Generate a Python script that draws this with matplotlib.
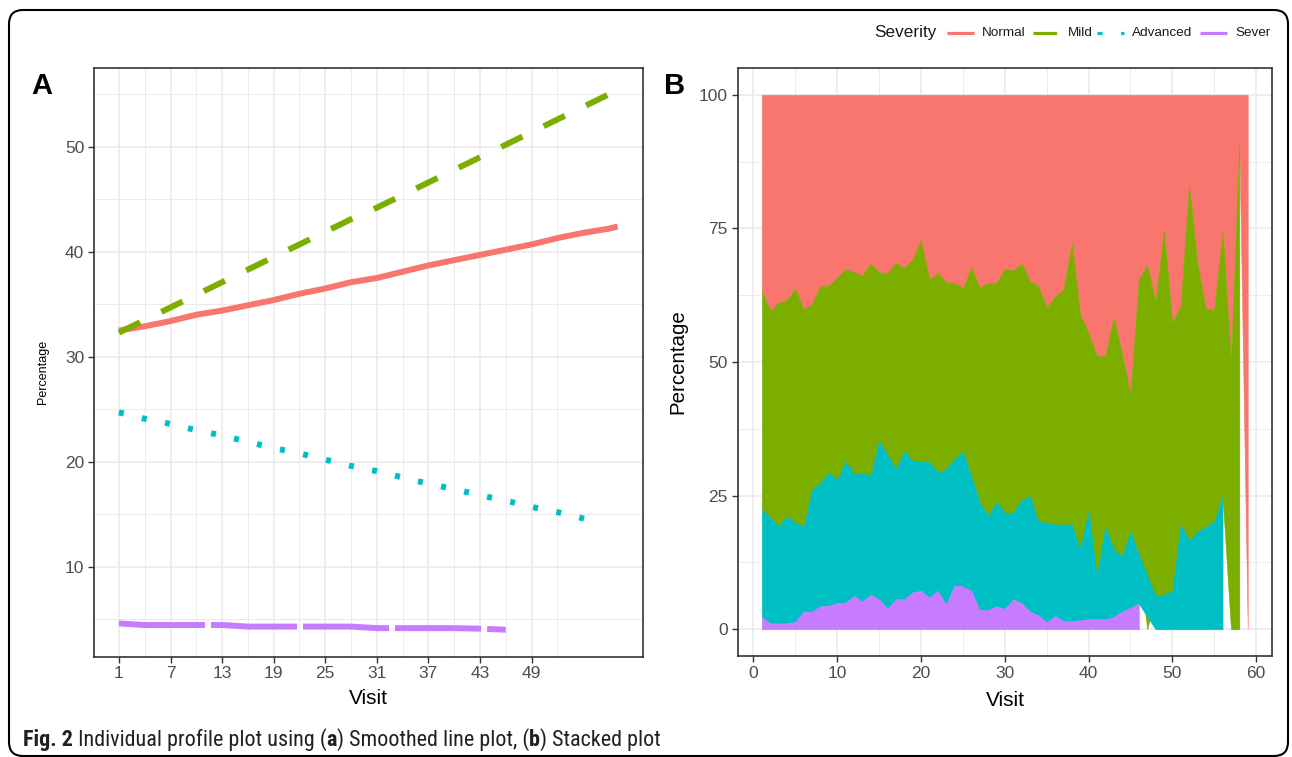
import numpy as np
import matplotlib
matplotlib.use("Agg")
import matplotlib.pyplot as plt
from matplotlib import font_manager
from matplotlib.lines import Line2D
from matplotlib.patches import FancyBboxPatch
from matplotlib.transforms import IdentityTransform

W, H = 1292, 757
nan = np.nan

# ---------- data ----------
SEVERITY = ["Normal", "Mild", "Advanced", "Sever"]
COLORS = ["#F8766D", "#7CAE00", "#00BFC4", "#C77CFF"]

# panel A: smoothed profiles
VISIT_A = [1, 4, 7, 10, 13, 16, 19, 22, 25, 28, 31, 34, 37, 40, 43, 46, 49, 52, 55, 58, 59]
NORMAL_A = [32.5, 32.9, 33.4, 34.0, 34.4, 34.9, 35.4, 36.0, 36.5, 37.1, 37.5,
            38.1, 38.7, 39.2, 39.7, 40.2, 40.7, 41.3, 41.8, 42.2, 42.4]
MILD_A = [32.3, 33.5, 34.7, 35.9, 37.1, 38.3, 39.5, 40.7, 41.9, 43.1, 44.2,
          45.4, 46.6, 47.8, 49.0, 50.2, 51.4, 52.6, 53.8, 55.0, 55.4]
VISIT_ADV_A = [1, 4, 7, 10, 13, 16, 19, 22, 25, 28, 31, 34, 37, 40, 43, 46, 49, 52, 55, 56]
ADV_A = [24.7, 24.1, 23.6, 23.0, 22.5, 21.9, 21.3, 20.8, 20.2, 19.6,
         19.1, 18.5, 17.9, 17.4, 16.8, 16.3, 15.7, 15.2, 14.6, 14.4]
VISIT_SEV_A = [1, 4, 7, 10, 13, 16, 19, 22, 25, 28, 31, 34, 37, 40, 43, 46]
SEV_A = [4.6, 4.45, 4.45, 4.45, 4.45, 4.3, 4.3, 4.3, 4.3, 4.3,
         4.15, 4.15, 4.15, 4.15, 4.1, 4.0]

# panel B: percentage per visit (nan = category absent at that visit)
VISIT_B = list(range(1, 60))
SEV_B = [2.3, 1.1, 1.1, 1.1, 1.4, 3.3, 3.3, 4.3, 4.4, 4.9,
         5.0, 6.2, 5.2, 6.5, 5.6, 3.9, 5.6, 5.6, 6.9, 7.2,
         5.9, 7.2, 4.6, 8.2, 8.0, 7.2, 3.6, 3.6, 4.3, 3.8,
         5.6, 4.9, 3.3, 2.6, 1.3, 2.5, 1.5, 1.5, 1.7, 1.9,
         1.9, 1.9, 2.3, 3.3, 4.0, 4.8, nan, nan, nan, nan,
         nan, nan, nan, nan, nan, nan, nan, nan, nan]
ADV_B = [20.2, 19.8, 18.1, 20.1, 18.5, 15.9, 22.8, 23.1, 24.9, 23.1,
         26.4, 22.8, 24.1, 22.2, 29.7, 28.7, 24.4, 27.6, 24.7, 24.1,
         25.4, 22.1, 25.4, 23.7, 25.2, 21.5, 20.2, 17.6, 19.5, 18.0,
         16.2, 19.2, 21.6, 17.6, 18.6, 17.1, 18.1, 18.1, 13.3, 20.3,
         7.9, 17.3, 12.7, 10.4, 14.3, 9.2, nan, 6.2, 6.5, 7.2,
         19.6, 16.6, 18.3, 19.2, 20.2, 24.8, nan, nan, nan]
MILD_B = [40.7, 38.7, 41.9, 40.4, 43.8, 40.6, 34.8, 36.8, 35.0, 37.8,
          36.0, 37.8, 36.9, 39.7, 31.5, 34.0, 38.6, 34.4, 37.6, 41.5,
          34.1, 37.3, 34.9, 32.9, 30.6, 39.0, 40.1, 43.6, 41.0, 45.6,
          45.3, 44.3, 40.2, 44.0, 40.3, 42.6, 43.9, 52.7, 43.9, 33.2,
          41.3, 31.9, 43.3, 37.8, 25.7, 51.5, 68.1, 55.0, 68.1, 50.1,
          41.0, 66.4, 50.1, 40.7, 39.7, 49.8, 49.8, 91.5, nan]
NORMAL_B = [36.8, 40.4, 38.9, 38.4, 36.3, 40.2, 39.1, 35.8, 35.7, 34.2,
            32.6, 33.2, 33.8, 31.6, 33.2, 33.4, 31.4, 32.4, 30.8, 27.2,
            34.6, 33.4, 35.1, 35.2, 36.2, 32.3, 36.1, 35.2, 35.2, 32.6,
            32.9, 31.6, 34.9, 35.8, 39.8, 37.8, 36.5, 27.7, 41.1, 44.6,
            48.9, 48.9, 41.7, 48.5, 56.0, 34.5, 31.9, 38.8, 25.4, 42.7,
            39.4, 17.0, 31.6, 40.1, 40.1, 25.4, 50.2, 8.5, 100.0]

# ---------- style ----------
plt.rcParams["font.family"] = ["Liberation Sans", "DejaVu Sans"]
plt.rcParams["lines.scale_dashes"] = False
installed = {f.name for f in font_manager.fontManager.ttflist}
# the journal caption uses a condensed face; take the narrowest one we have
CAPTION_FONT = "Roboto"
for cand in ("Liberation Sans Narrow", "DejaVu Sans Condensed", "Roboto Condensed",
             "Open Sans Condensed", "Noto Sans Condensed"):
    if cand in installed:
        CAPTION_FONT = cand
        break

GRID = "#EBEBEB"
FRAME = "#333333"
TICKTXT = "#4D4D4D"
# line styles per severity (points, unscaled)
STYLES = [None, (0, (17, 17)), (0, (3.6, 13.4)), (0, (62, 4.3))]


def px(x, y):
    return x / W, 1 - y / H


def style_axes(ax):
    ax.set_facecolor("white")
    for s in ax.spines.values():
        s.set_color(FRAME)
        s.set_linewidth(1.2)
    ax.tick_params(direction="out", length=4, width=1, color=FRAME,
                   labelcolor=TICKTXT, labelsize=12.5, pad=3)
    ax.grid(which="major", color=GRID, lw=1.2)
    ax.grid(which="minor", color=GRID, lw=0.7)
    ax.tick_params(which="minor", length=0)
    ax.set_axisbelow(True)


fig = plt.figure(figsize=(W / 100, H / 100), dpi=100)

# ---------- panel A ----------
axA = fig.add_axes([94 / W, 1 - 656.5 / H, (642.5 - 94) / W, (656.5 - 67.5) / H])
style_axes(axA)
axA.set_xlim(-1.9, 61.9)
axA.set_ylim(1.45, 57.55)
axA.set_xticks(np.arange(1, 50, 6))
axA.set_xticks(np.arange(4, 56, 6), minor=True)
axA.set_yticks([10, 20, 30, 40, 50])
axA.set_yticks([5, 15, 25, 35, 45, 55], minor=True)

series_a = [(VISIT_A, NORMAL_A), (VISIT_A, MILD_A), (VISIT_ADV_A, ADV_A), (VISIT_SEV_A, SEV_A)]
for (vx, vy), col, ls in zip(series_a, COLORS, STYLES):
    kw = dict(color=col, lw=4.3, solid_capstyle="butt", dash_capstyle="butt")
    if ls is not None:
        kw["linestyle"] = ls
    axA.plot(vx, vy, **kw)

# ---------- panel B ----------
axB = fig.add_axes([737.5 / W, 1 - 656 / H, (1272 - 737.5) / W, (656 - 68) / H])
style_axes(axB)
axB.set_xlim(-1.9, 61.9)
axB.set_ylim(-5, 105)
axB.set_xticks(np.arange(0, 61, 10))
axB.set_xticks(np.arange(5, 60, 10), minor=True)
axB.set_yticks([0, 25, 50, 75, 100])
axB.set_yticks([12.5, 37.5, 62.5, 87.5], minor=True)

xb = np.array(VISIT_B, dtype=float)
stack_names = ["Sever", "Advanced", "Mild", "Normal"]
stack = [np.array(v, dtype=float) for v in (SEV_B, ADV_B, MILD_B, NORMAL_B)]
lower = []
run = np.zeros(len(xb))
for v in stack:
    lower.append(run.copy())
    run = run + np.nan_to_num(v)
# draw Normal first, Sever last (group order); each group joins its own points
for i in (3, 2, 1, 0):
    v = stack[i]
    m = ~np.isnan(v)
    col = COLORS[SEVERITY.index(stack_names[i])]
    axB.fill_between(xb[m], lower[i][m], lower[i][m] + v[m], color=col,
                     lw=0.4, edgecolor=col, zorder=2)

# ---------- axis titles and panel tags ----------
fig.text(*px(43, 372), "Percentage", rotation=90, ha="center", va="center", fontsize=9, color="black")
fig.text(*px(368, 698), "Visit", ha="center", va="center", fontsize=15, color="black")
fig.text(*px(678, 362), "Percentage", rotation=90, ha="center", va="center", fontsize=14.8, color="black")
fig.text(*px(1005, 700), "Visit", ha="center", va="center", fontsize=15, color="black")
fig.text(*px(31, 94), "A", fontsize=21, fontweight="bold", ha="left", va="baseline")
fig.text(*px(664, 94), "B", fontsize=21, fontweight="bold", ha="left", va="baseline")

# ---------- legend ----------
fig.text(*px(874, 33), "Severity", fontsize=12.3, ha="left", va="center", color="#1A1A1A")
KEY_X = [947, 1033, 1097, 1200]
for name, col, ls, kx in zip(SEVERITY, COLORS, STYLES, KEY_X):
    x0, y0 = px(kx, 33)
    x1, _ = px(kx + 27, 33)
    ln = Line2D([x0, x1], [y0, y0], transform=fig.transFigure, color=col, lw=2.3,
                solid_capstyle="butt", dash_capstyle="butt",
                linestyle=ls if ls is not None else "-")
    fig.add_artist(ln)
    fig.text(*px(kx + 35, 33), name, fontsize=9.7, ha="left", va="center", color="#1A1A1A")

# ---------- outer frame ----------
frame = FancyBboxPatch((9, 1), 1279, 746, boxstyle="round,pad=0,rounding_size=14",
                       transform=IdentityTransform(), fill=False, lw=1.5, ec="black")
fig.add_artist(frame)

# ---------- caption ----------
pieces = [("Fig. 2", "bold"), (" Individual profile plot using (", "normal"), ("a", "bold"),
          (") Smoothed line plot, (", "normal"), ("b", "bold"), (") Stacked plot", "normal")]
fig.canvas.draw()
renderer = fig.canvas.get_renderer()


def caption_width(size):
    total = 0
    for txt, wt in pieces:
        t = fig.text(0, 0, txt, fontsize=size, fontweight=wt, family=CAPTION_FONT)
        total += t.get_window_extent(renderer).width
        t.remove()
    return total


# fit the caption to the width it takes in the journal layout (x 23..663)
cap_size = 14 * 640 / caption_width(14)
cap_size = min(cap_size, 16)
cx = 23
for txt, wt in pieces:
    t = fig.text(*px(cx, 746), txt, fontsize=cap_size, fontweight=wt, family=CAPTION_FONT,
                 ha="left", va="baseline", color="#231F20")
    cx += t.get_window_extent(renderer).width

fig.savefig("out.png", dpi=100)
